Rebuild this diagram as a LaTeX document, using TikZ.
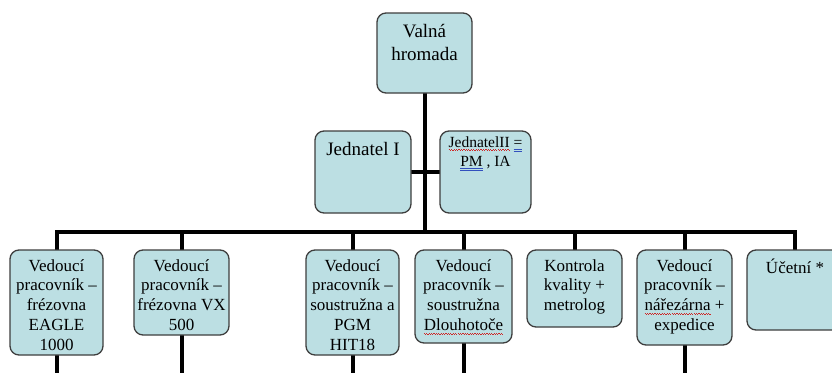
\documentclass[tikz,border=0pt]{standalone}
\usepackage{fontspec}
\setmainfont{Liberation Serif}
\usetikzlibrary{backgrounds}

\definecolor{boxfill}{RGB}{188,223,227}
\definecolor{boxline}{RGB}{62,62,62}
\definecolor{spellred}{RGB}{205,40,40}
\definecolor{grammblue}{RGB}{50,80,190}

% proofing marks as the word processor shows them
\newcommand\spellerr[1]{\leavevmode\setbox0\hbox{#1}\rlap{\color{spellred}\hbox to\wd0{\xleaders\hbox{\rule[-3.0pt]{1.2pt}{0.6pt}\rule[-3.9pt]{1.2pt}{0.6pt}}\hfill}}\box0\relax}
\newcommand\grammerr[1]{\leavevmode\setbox0\hbox{#1}\rlap{\color{grammblue}\rlap{\rule[-2.6pt]{\wd0}{0.5pt}}\rule[-4.2pt]{\wd0}{0.5pt}}\box0\relax}

% box content: width, height, first baseline, lines
\newcommand\orgtext[4]{\parbox[c][#2pt][t]{#1pt}{\centering\rule{0pt}{#3pt}#4\par}}

\tikzset{
  orgbox/.style={draw=boxline, fill=boxfill, line width=1.3pt, rounded corners=9pt,
    inner sep=0pt, outer sep=0pt, anchor=north west},
  topfont/.style={font={\fontsize{19}{23.5}\selectfont}},
  lowfont/.style={font={\fontsize{17}{19.8}\selectfont}},
  conn/.style={draw=black, line width=4pt}
}

\begin{document}
\begin{tikzpicture}[x=1pt, y=-1pt]
\clip (0,0) rectangle (832,372);

% boxes
\node[orgbox, topfont] (vh) at (377,13) {\orgtext{95}{80}{24}{Valná\\hromada}};
\node[orgbox, topfont] (j1) at (315,131) {\orgtext{96}{82}{24}{Jednatel I}};
\node[orgbox, font={\fontsize{15.5}{19}\selectfont}] (j2) at (440,131) {\orgtext{91}{82}{16}{\spellerr{JednatelII} \grammerr{=}\\\grammerr{PM} , IA}};

\node[orgbox, lowfont] (b1) at (10,250)  {\orgtext{93}{105}{21}{Vedoucí\\pracovník –\\frézovna\\EAGLE\\1000}};
\node[orgbox, lowfont] (b2) at (134,250) {\orgtext{95}{85}{21}{Vedoucí\\pracovník –\\frézovna VX\\500}};
\node[orgbox, lowfont] (b3) at (306,250) {\orgtext{93}{105}{21}{Vedoucí\\pracovník –\\soustružna a\\PGM\\HIT18}};
\node[orgbox, lowfont] (b4) at (415,250) {\orgtext{97}{93}{21}{Vedoucí\\pracovník –\\soustružna\\\spellerr{Dlouhotoče}}};
\node[orgbox, lowfont] (b5) at (527,250) {\orgtext{95}{77}{21}{Kontrola\\kvality +\\metrolog}};
\node[orgbox, lowfont] (b6) at (637,250) {\orgtext{95}{95}{21}{Vedoucí\\pracovník –\\\spellerr{nářezárna} +\\expedice}};
\node[orgbox, font={\fontsize{17}{20}\selectfont}] (b7) at (747,250) {\orgtext{96}{80}{23}{Účetní *}};

% connectors, drawn behind the boxes
\coordinate (barlevel) at (0,232);
\coordinate (floor) at (0,390);
\coordinate (hub) at (vh.south |- barlevel);
\begin{scope}[on background layer]
  \draw[conn] (vh.south) -- (hub);
  \draw[conn] (j1.east) -- (j2.west);
  \foreach \b in {b1,b2,b3,b4,b5,b6,b7}
    \draw[conn] (hub) -| (\b.north);
  \foreach \b in {b1,b2,b3,b4,b6}
    \draw[conn] (\b.south) -- (\b.south |- floor);
\end{scope}
\end{tikzpicture}
\end{document}
